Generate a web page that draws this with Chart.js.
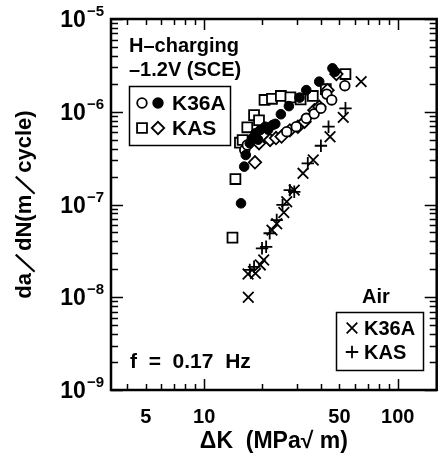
<!DOCTYPE html>
<html>
<head>
<meta charset="utf-8">
<script src="https://cdn.jsdelivr.net/npm/chart.js@4.4.1/dist/chart.umd.min.js"></script>
<style>
	html, body { margin: 0; padding: 0; background: #fff; }
	#wrap { width: 446px; height: 459px; }
</style>
</head>
<body>
<div id="wrap"><canvas id="chart"></canvas></div>
<script>
const FONT = "'Liberation Sans', Arial, sans-serif";

// tick labels
const xTickLabels = [5, 10, 50, 100];
const yTickExponents = [-9, -8, -7, -6, -5];

// H-charging -1.2V (SCE), K36A solid circles
const k36aSolidDK = [15.5, 16.1, 16.4, 17.2, 17.7, 18.4, 19.0, 19.5, 20.7, 21.4, 22.6, 23.3, 24.9, 27.4, 31.1, 33.7, 39.3, 46.0, 47.4];
const k36aSolidRate = [1.03e-7, 2.56e-7, 3.42e-7, 4.57e-7, 5.17e-7, 5.86e-7, 5.0e-7, 6.36e-7, 6.9e-7, 6.4e-7, 7.2e-7, 7.4e-7, 9.4e-7, 1.15e-6, 1.42e-6, 1.71e-6, 2.11e-6, 2.94e-6, 2.7e-6];

// H-charging, K36A open circles
const k36aOpenDK = [16.2, 16.7, 26.7, 29.9, 33.7, 37.0, 40.1, 43.0, 45.6, 53.3];
const k36aOpenRate = [3.87e-7, 4.38e-7, 6.1e-7, 6.9e-7, 8.5e-7, 9.5e-7, 1.09e-6, 1.55e-6, 1.34e-6, 1.91e-6];

// H-charging, KAS squares
const kasSquareDK = [14.0, 14.5, 15.3, 15.8, 16.7, 18.1, 19.2, 20.5, 22.4, 24.9, 27.9, 31.5, 36.4, 42.5, 53.7];
const kasSquareRate = [4.39e-8, 1.88e-7, 4.64e-7, 4.96e-7, 6.8e-7, 9.2e-7, 8.1e-7, 1.34e-6, 1.38e-6, 1.48e-6, 1.43e-6, 1.36e-6, 1.48e-6, 1.75e-6, 2.55e-6];

// H-charging, KAS diamonds
const kasDiamondDK = [18.3, 19.2, 21.9, 23.5, 25.1, 27.7, 30.5, 33.0, 37.1, 39.3, 43.4, 48.2];
const kasDiamondRate = [2.85e-7, 4.57e-7, 4.96e-7, 5.2e-7, 5.4e-7, 6.3e-7, 6.9e-7, 7.8e-7, 1.04e-6, 1.13e-6, 1.71e-6, 2.55e-6];

// Air, K36A
const airK36aDK = [16.9, 16.85, 18.4, 19.5, 20.3, 22.4, 23.7, 25.8, 26.7, 29.2, 32.4, 36.6, 44.7, 52.3, 64.7];
const airK36aRate = [1.0e-8, 1.78e-8, 1.81e-8, 2.23e-8, 2.52e-8, 5.3e-8, 6.2e-8, 8.2e-8, 1.07e-7, 1.43e-7, 2.17e-7, 3.02e-7, 5.38e-7, 8.7e-7, 2.11e-6];

// Air, KAS
const airKasDK = [17.2, 18.1, 19.9, 20.9, 21.8, 23.7, 25.4, 27.7, 29.2, 34.3, 40.1, 43.9, 53.7];
const airKasRate = [1.97e-8, 2.13e-8, 3.37e-8, 3.5e-8, 4.9e-8, 6.8e-8, 9.9e-8, 1.43e-7, 1.37e-7, 2.78e-7, 4.3e-7, 6.9e-7, 1.09e-6];

const X_MIN = 3.3, X_MAX = 159, Y_MIN = 1e-9, Y_MAX = 1e-5;

const toPoints = (xs, ys) => xs.map((x, i) => ({x: x, y: ys[i]}));

// minor + major tick positions (1..9 x 10^n inside the range)
const xTickValues = [];
for (let d = 1; d <= 100; d *= 10) {
	for (let m = 1; m < 10; m++) {
		const v = m * d;
		if (v >= X_MIN && v <= X_MAX) xTickValues.push(v);
	}
}
const yTickValues = [];
for (let e = -9; e < -5; e++) {
	for (let m = 1; m < 10; m++) yTickValues.push(m * Math.pow(10, e));
}
yTickValues.push(Y_MAX);

const isDecade = v => Math.abs(Math.log10(v) - Math.round(Math.log10(v))) < 1e-9;

function mark(ctx, style, radius, x, y, filled, lw) {
	ctx.save();
	ctx.lineWidth = lw;
	ctx.strokeStyle = '#000';
	ctx.fillStyle = filled ? '#000' : '#fff';
	Chart.helpers.drawPoint(ctx, {pointStyle: style, radius: radius, borderWidth: lw, rotation: 0}, x, y);
	ctx.restore();
}

const framePlugin = {
	id: 'frame',
	afterDraw(chart) {
		const {ctx, chartArea: a, scales: {x, y}} = chart;
		ctx.save();
		ctx.strokeStyle = '#000';
		ctx.lineWidth = 2.5;
		ctx.strokeRect(a.left, a.top, a.right - a.left, a.bottom - a.top);

		ctx.lineWidth = 1.5;
		ctx.beginPath();
		xTickValues.forEach(v => {
			const px = Math.round(x.getPixelForValue(v)) + 0.5;
			const len = isDecade(v) ? 11 : 6;
			ctx.moveTo(px, a.bottom); ctx.lineTo(px, a.bottom - len);
			ctx.moveTo(px, a.top); ctx.lineTo(px, a.top + len);
		});
		yTickValues.forEach(v => {
			const py = Math.round(y.getPixelForValue(v)) + 0.5;
			const len = isDecade(v) ? 12 : 7;
			ctx.moveTo(a.left, py); ctx.lineTo(a.left + len, py);
			ctx.moveTo(a.right, py); ctx.lineTo(a.right - len, py);
		});
		ctx.stroke();

		// y tick labels 10^n
		ctx.fillStyle = '#000';
		ctx.textBaseline = 'alphabetic';
		ctx.textAlign = 'left';
		yTickExponents.forEach(e => {
			const py = y.getPixelForValue(Math.pow(10, e));
			const sup = '\u2212' + Math.abs(e);
			ctx.font = 'bold 15px ' + FONT;
			const wSup = ctx.measureText(sup).width;
			ctx.font = 'bold 23px ' + FONT;
			const wBase = ctx.measureText('10').width;
			const xs = 104 - wSup;
			ctx.fillText('10', xs - 1 - wBase, py + 8);
			ctx.font = 'bold 15px ' + FONT;
			ctx.fillText(sup, xs, py - 3);
		});

		// annotations
		ctx.textBaseline = 'middle';
		ctx.font = 'bold 20px ' + FONT;
		ctx.fillText('H\u2013charging', 129, 46);
		ctx.fillText('\u20131.2V (SCE)', 129, 70);
		ctx.font = 'bold 21px ' + FONT;
		ctx.fillText('f  =  0.17  Hz', 130, 362);
		ctx.font = 'bold 20px ' + FONT;
		ctx.fillText('Air', 362, 297);

		ctx.lineWidth = 1.5;
		ctx.strokeRect(129.5, 86.5, 101, 59);
		ctx.strokeRect(336.5, 312.5, 87, 58);

		mark(ctx, 'circle', 4.8, 142, 103, false, 1.8);
		mark(ctx, 'circle', 4.8, 158, 103, true, 1.8);
		mark(ctx, 'rect', 7, 142, 128, false, 1.8);
		mark(ctx, 'rectRot', 6.2, 158, 128, false, 1.8);
		mark(ctx, 'crossRot', 7.5, 352, 328, false, 1.8);
		mark(ctx, 'cross', 6.2, 352, 352, false, 1.8);

		ctx.font = 'bold 21px ' + FONT;
		ctx.fillText('K36A', 172, 104);
		ctx.fillText('KAS', 172, 129);
		ctx.font = 'bold 20px ' + FONT;
		ctx.fillText('K36A', 364, 329);
		ctx.fillText('KAS', 364, 353);
		ctx.restore();
	}
};

const common = {borderColor: '#000', showLine: false};

new Chart(document.getElementById('chart'), {
	type: 'scatter',
	data: {
		datasets: [
			{...common, label: 'K36A H solid', data: toPoints(k36aSolidDK, k36aSolidRate),
				pointStyle: 'circle', pointRadius: 4.8, pointBackgroundColor: '#000', pointBorderWidth: 1},
			{...common, label: 'K36A H open', data: toPoints(k36aOpenDK, k36aOpenRate),
				pointStyle: 'circle', pointRadius: 4.8, pointBackgroundColor: '#fff', pointBorderWidth: 1.8},
			{...common, label: 'KAS H diamond', data: toPoints(kasDiamondDK, kasDiamondRate),
				pointStyle: 'rectRot', pointRadius: 6.2, pointBackgroundColor: '#fff', pointBorderWidth: 1.8},
			{...common, label: 'KAS H square', data: toPoints(kasSquareDK, kasSquareRate),
				pointStyle: 'rect', pointRadius: 7, pointBackgroundColor: '#fff', pointBorderWidth: 1.8},
			{...common, label: 'K36A air', data: toPoints(airK36aDK, airK36aRate),
				pointStyle: 'crossRot', pointRadius: 7.5, pointBorderWidth: 1.8},
			{...common, label: 'KAS air', data: toPoints(airKasDK, airKasRate),
				pointStyle: 'cross', pointRadius: 6.2, pointBorderWidth: 1.8}
		]
	},
	options: {
		responsive: true,
		maintainAspectRatio: false,
		animation: false,
		layout: {padding: {top: 19, right: 3, left: 0, bottom: 0}},
		plugins: {legend: {display: false}, tooltip: {enabled: false}},
		scales: {
			x: {
				type: 'logarithmic',
				min: X_MIN,
				max: X_MAX,
				afterBuildTicks: s => { s.ticks = xTickValues.map(v => ({value: v})); },
				afterFit: s => { s.height = 69; },
				grid: {display: false},
				border: {display: false},
				ticks: {
					autoSkip: false,
					maxRotation: 0,
					padding: 7,
					color: '#000',
					font: {family: FONT, weight: 'bold', size: 20},
					callback: v => xTickLabels.includes(v) ? String(v) : ''
				},
				title: {
					display: true,
					text: '\u0394K  (MPa\u221A m)',
					color: '#000',
					font: {family: FONT, weight: 'bold', size: 23},
					padding: {top: 0, bottom: 4}
				}
			},
			y: {
				type: 'logarithmic',
				min: Y_MIN,
				max: Y_MAX,
				afterBuildTicks: s => { s.ticks = yTickValues.map(v => ({value: v})); },
				afterFit: s => { s.width = 111; },
				grid: {display: false},
				border: {display: false},
				ticks: {display: false},
				title: {
					display: true,
					text: 'da\uFF0FdN(m\uFF0Fcycle)',
					color: '#000',
					font: {family: FONT, weight: 'bold', size: 22},
					padding: {top: 12, bottom: 0}
				}
			}
		}
	},
	plugins: [framePlugin]
});
</script>
</body>
</html>
